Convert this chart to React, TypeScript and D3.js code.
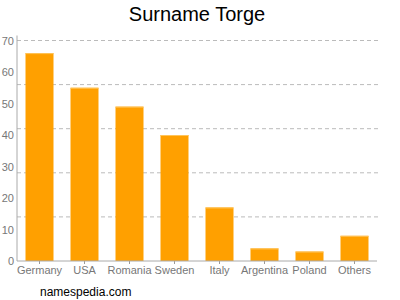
import React from "react";
import * as d3 from "d3";

const categories = ["Germany", "USA", "Romania", "Sweden", "Italy", "Argentina", "Poland", "Others"];
const values = [66, 55, 49, 40, 17, 4, 3, 8];
const yTicks = [0, 10, 20, 30, 40, 50, 60, 70];
const gridValues = [14, 28, 42, 56, 70];

export default function App() {
  const W = 400, H = 300;
  const left = 17, right = 377, top = 40.5, bottom = 261;
  const x = d3.scaleBand<string>().domain(categories).range([left, right]).paddingInner(0.378).paddingOuter(0.189);
  const y = d3.scaleLinear().domain([0, 70]).range([bottom, top]);
  const font = "Arial, 'Liberation Sans', Helvetica, sans-serif";
  return (
    <svg width={W} height={H} style={{ position: "absolute", left: 0, top: 0, background: "#fff" }} fontFamily={font}>
      <text x={197} y={21} textAnchor="middle" fontSize={20} fill="#000">Surname Torge</text>
      {gridValues.map((g) => (
        <line key={g} x1={left} x2={380} y1={y(g)} y2={y(g)} stroke="#bbb" strokeDasharray="4,3" strokeWidth={1} />
      ))}
      {categories.map((c, i) => (
        <g key={c}>
          <rect x={x(c)} y={y(values[i])} width={x.bandwidth()} height={bottom - y(values[i])} fill="#FFA000" />
          <line x1={x(c)} x2={(x(c) as number) + x.bandwidth()} y1={y(values[i]) + 0.5} y2={y(values[i]) + 0.5} stroke="#FFC45A" strokeWidth={1} />
          <line x1={(x(c) as number) + x.bandwidth() / 2} x2={(x(c) as number) + x.bandwidth() / 2} y1={bottom} y2={bottom + 3} stroke="#999" />
          <text x={(x(c) as number) + x.bandwidth() / 2} y={274} textAnchor="middle" fontSize={11} fill="#777">{c}</text>
        </g>
      ))}
      <line x1={left} x2={left} y1={top - 5} y2={bottom} stroke="#aaa" />
      <line x1={left} x2={right} y1={bottom} y2={bottom} stroke="#aaa" />
      {yTicks.map((t) => (
        <text key={t} x={14} y={y(t) + 4} textAnchor="end" fontSize={11} fill="#777">{t}</text>
      ))}
      <text x={40} y={296} fontSize={12} fill="#000">namespedia.com</text>
    </svg>
  );
}
